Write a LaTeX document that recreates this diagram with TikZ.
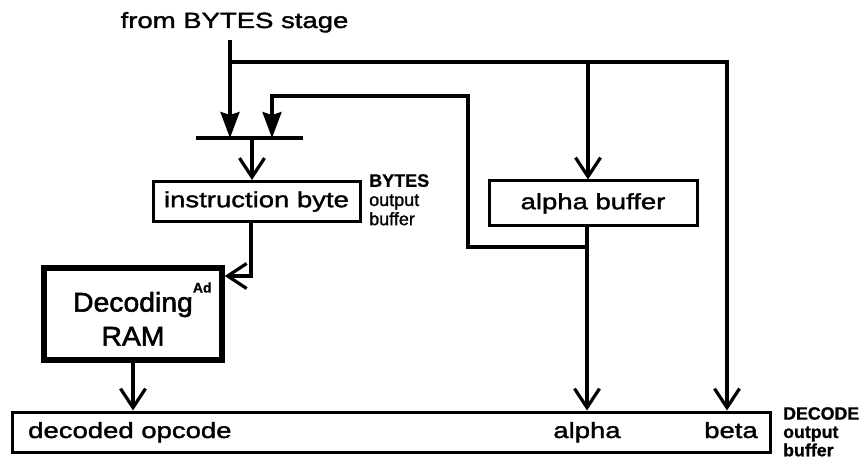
\documentclass[tikz,border=0pt]{standalone}
\usepackage{fontspec}
\usepackage{graphicx}
\setmainfont{Liberation Sans}
\newfontfamily\dfont{Liberation Sans}[FakeStretch=1.25, FakeBold=1.6]
\newfontfamily\sfontr{Liberation Sans}[FakeBold=1.2]
\newfontfamily\sfontb{Liberation Sans Bold}[FakeBold=0.8]
\newfontfamily\rfont{Liberation Sans}[FakeStretch=1.05, FakeBold=2]
\newcommand{\smr}{\sfontr\fontsize{15}{16}\selectfont}
\newcommand{\smb}{\sfontb\fontsize{15}{16}\selectfont}
\usetikzlibrary{arrows.meta}
\begin{document}
\begin{tikzpicture}[x=1pt,y=-1pt,
  lbl/.style={font=\dfont\fontsize{22}{26}\selectfont, inner sep=0pt},
  small/.style={inner sep=0pt},
  box/.style={draw, line width=3pt, inner sep=0pt, font=\dfont\fontsize{22}{26}\selectfont},
  wire/.style={line width=3.2pt},
  open/.style={-{Straight Barb[length=19pt,width=25pt]}},
  solid/.style={-{Stealth[length=26pt,width=19pt,inset=3pt]}}
]
\useasboundingbox (0,0) rectangle (862,465);

% title
\node[lbl, anchor=base] (title) at (234.5,28) {from BYTES stage};

% boxes
\node[box, minimum width=207, minimum height=40] (ib) at (256.5,201.5) {instruction byte};
\node[box, minimum width=208, minimum height=45] (ab) at (593,203.5) {alpha buffer};
\node[box, line width=5.5pt, minimum width=178, minimum height=92,
      font=\rfont\fontsize{27}{34}\selectfont, align=center] (ram) at (133,314)
      {Decoding\rlap{\raisebox{19pt}{\sfontb\fontsize{14}{14}\selectfont Ad}}\\RAM};
\node[box, minimum width=758, minimum height=40] (dec) at (391,432) {};

% texts in decode buffer
\node[lbl, anchor=base west] (dop) at (28,438) {decoded opcode};
\node[lbl, anchor=base] (alph) at (587,438) {alpha};
\node[lbl, anchor=base] (bet) at (731,438) {beta};

% side labels
\node[small, anchor=north west] (bl) at (369,174)
  {\resizebox{60pt}{!}{\vbox{\smb\baselineskip=16pt\hbox{BYTES}\hbox{\smr output}\hbox{\smr buffer}}}};
\node[small, anchor=north west] (dl) at (783,407)
  {\resizebox{76pt}{!}{\vbox{\smb\baselineskip=15.5pt\hbox{DECODE}\hbox{output}\hbox{buffer}}}};

% coordinates
\coordinate (src) at (230,40);
\coordinate (j1) at (230,62);
\coordinate (bt) at (727,62);
\coordinate (ja) at (588,62);
\coordinate (barL) at (196,138);
\coordinate (barR) at (303,138);
\coordinate (bm) at (252,138);
\coordinate (ao) at (587,247);
\coordinate (fbc) at (468,96);
\coordinate (fbt) at (272,96);
\coordinate (ibo) at (251,276);

% bar
\draw[wire] (barL) -- (barR);
% main input
\draw[wire, solid] (src) -- (src |- barL);
% bus
\draw[wire, open] (j1) -- (bt) -- (bt |- dec.north);
\draw[wire, open] (ja) -- (ja |- ab.north);
% alpha output
\draw[wire, open] (ab.south -| ao) -- (ao |- dec.north);
% feedback
\draw[wire, solid] (ao) -| (fbc) -- (fbt) -- (fbt |- barL);
% bar to instruction byte
\draw[wire, open] (bm) -- (bm |- ib.north);
% instruction byte to RAM
\draw[wire, open] (ib.south -| ibo) -- (ibo) -- (ram.east |- ibo);
% RAM to decode
\draw[wire, open] (ram.south) -- (ram.south |- dec.north);
\end{tikzpicture}
\end{document}
